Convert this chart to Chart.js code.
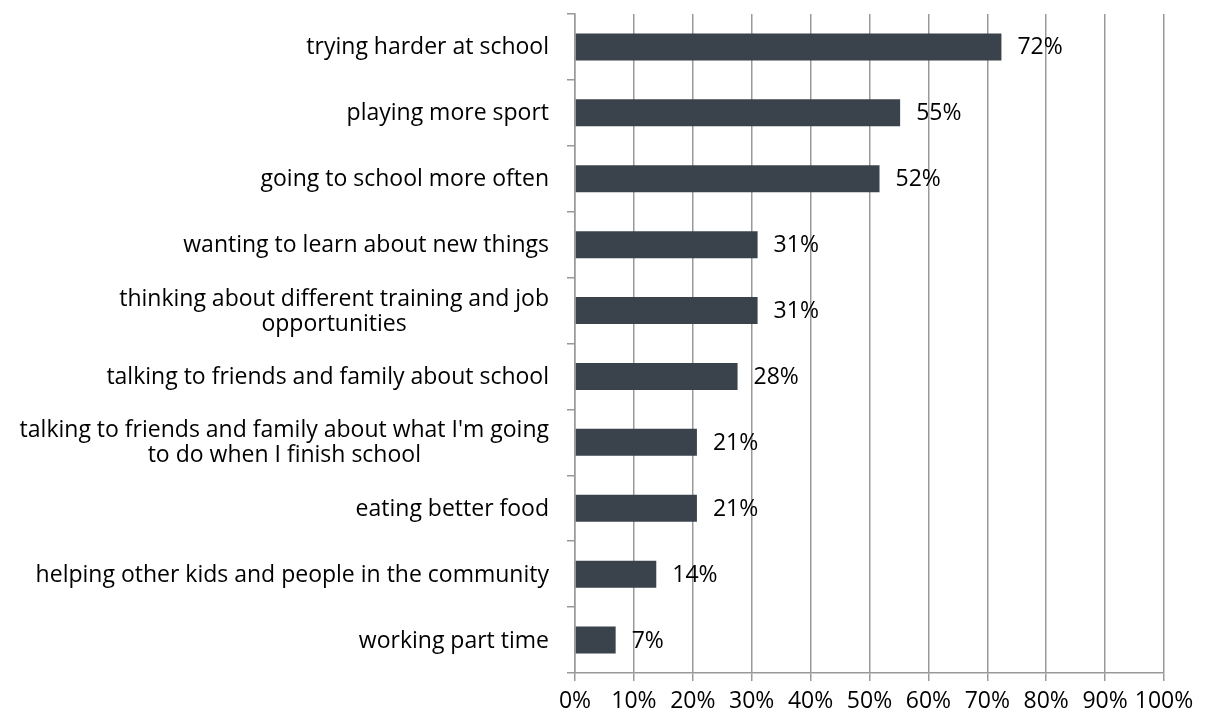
<!DOCTYPE html>
<html>
<head>
<meta charset="utf-8">
<script src="https://cdn.jsdelivr.net/npm/chart.js@4/dist/chart.umd.min.js"></script>
<style>
html,body{margin:0;padding:0;background:#fff;}
#wrap{width:1205px;height:717px;position:relative;}
</style>
</head>
<body>
<div id="wrap"><canvas id="c" width="1205" height="717"></canvas></div>
<script>
const categories = [
  "trying harder at school",
  "playing more sport",
  "going to school more often",
  "wanting to learn about new things",
  ["thinking about different training and job", "opportunities"],
  "talking to friends and family about school",
  ["talking to friends and family about what I'm going", "to do when I finish school"],
  "eating better food",
  "helping other kids and people in the community",
  "working part time"
];
const values = [72.4, 55.2, 51.7, 31.0, 31.0, 27.6, 20.7, 20.7, 13.8, 6.9];
const xTicks = [0, 10, 20, 30, 40, 50, 60, 70, 80, 90, 100];

const FONT = "'Open Sans', sans-serif";
const FSIZE = 23;
const AXIS_X = 575;

const labelPlugin = {
  id: 'customLabels',
  afterDatasetsDraw(chart) {
    const ctx = chart.ctx;
    ctx.save();
    ctx.font = FSIZE + "px " + FONT;
    ctx.fillStyle = '#000';
    ctx.textBaseline = 'middle';
    ctx.textAlign = 'left';
    const meta = chart.getDatasetMeta(0);
    meta.data.forEach((bar, i) => {
      ctx.fillText(Math.round(values[i]) + '%', bar.x + 16, bar.y + 1);
    });
    // category labels, block right-aligned, lines centered within block
    const y = chart.scales.y;
    const lh = 25;
    categories.forEach((lab, i) => {
      const lines = Array.isArray(lab) ? lab : [lab];
      let maxW = 0;
      lines.forEach(l => { maxW = Math.max(maxW, ctx.measureText(l).width); });
      const right = y.right - 26;
      const cx = right - maxW / 2;
      const cy = y.getPixelForTick(i);
      ctx.textAlign = 'center';
      lines.forEach((l, k) => {
        ctx.fillText(l, cx, cy + 1 + (k - (lines.length - 1) / 2) * lh);
      });
    });
    ctx.restore();
  }
};

new Chart(document.getElementById('c'), {
  type: 'bar',
  data: {
    labels: categories,
    datasets: [{
      data: values,
      backgroundColor: '#3a434b',
      borderWidth: 0,
      categoryPercentage: 1.0,
      barPercentage: 0.41
    }]
  },
  options: {
    indexAxis: 'y',
    responsive: false,
    animation: false,
    layout: { padding: { top: 14, right: 41, left: 0, bottom: 0 } },
    plugins: { legend: { display: false }, tooltip: { enabled: false } },
    scales: {
      x: {
        min: 0, max: 100,
        afterBuildTicks(scale) { scale.ticks = xTicks.map(v => ({ value: v })); },
        afterFit(scale) { scale.height = 44; },
        ticks: {
          callback: v => v + '%',
          color: '#000',
          font: { family: FONT, size: FSIZE },
          padding: 7,
          maxRotation: 0,
          autoSkip: false
        },
        grid: { color: '#999', lineWidth: 1.5, tickLength: 8, drawTicks: true },
        border: { color: '#999', width: 1.5 }
      },
      y: {
        afterFit(scale) { scale.width = AXIS_X; },
        ticks: { display: false },
        grid: { offset: true, drawOnChartArea: false, drawTicks: true, tickLength: 8, color: '#999', lineWidth: 1.5 },
        border: { color: '#999', width: 1.5 }
      }
    }
  },
  plugins: [labelPlugin]
});
</script>
</body>
</html>
